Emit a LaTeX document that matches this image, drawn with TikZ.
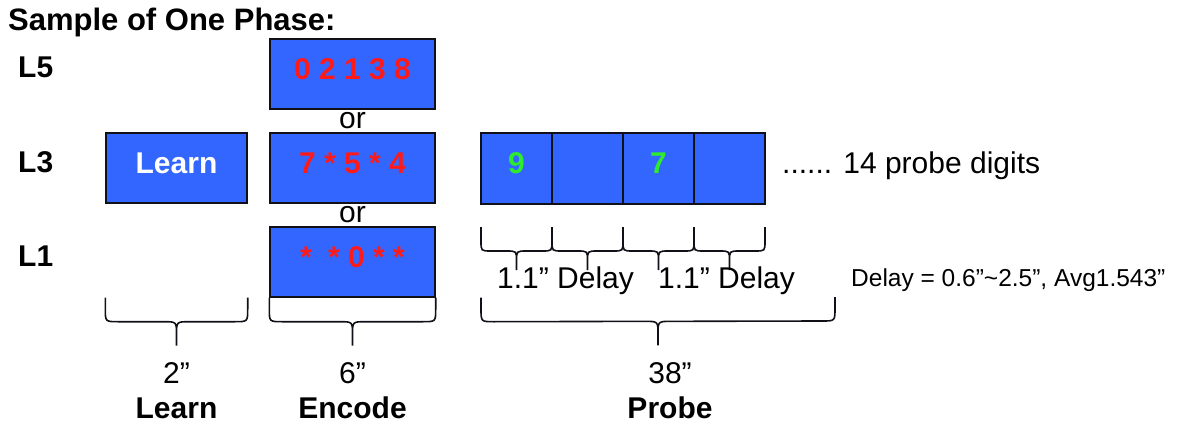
\documentclass[tikz,border=0pt]{standalone}
\usepackage{fontspec}
\setmainfont{Liberation Sans}
\usepackage{tikz}
\usetikzlibrary{positioning,calc}
\definecolor{ink}     {HTML}{101018}
\definecolor{boxblue} {HTML}{3366FF}
\definecolor{digred}  {HTML}{FF1A1A}
\definecolor{diggreen}{HTML}{2EEB2E}
\tikzset{
  every node/.style={font=\fontsize{30}{34}\selectfont},
  % --- nodes
  blk/.style   = {draw=ink, line width=1.4pt, fill=boxblue, inner sep=0pt,
                  minimum height=70pt, text depth=10pt,
                  font=\fontsize{30}{34}\selectfont\bfseries},
  lrn/.style   = {blk, minimum width=141pt, text=white},
  enc/.style   = {blk, minimum width=165pt, text=digred},
  cell/.style  = {blk, minimum width=71pt, minimum height=71pt, outer sep=0pt,
                  text=diggreen},
  hd/.style    = {font=\fontsize{30}{34}\selectfont\bfseries, inner sep=0pt},
  txt/.style   = {font=\fontsize{30}{34}\selectfont, inner sep=0pt},
  small/.style = {font=\fontsize{24.5}{28}\selectfont, inner sep=0pt},
  % --- braces: drop to bar, curve size, stem
  brc/.style   = {draw=ink, line width=1.6pt},
  curly/.style n args={3}{to path={
      -- ($(\tikztostart)+(0,#1-#2)$)
      .. controls ($(\tikztostart)+(0,#1)$) .. ($(\tikztostart)+(#2,#1)$)
      -- ($(\tikztostart)!.5!(\tikztotarget)+(-#2,#1)$)
      .. controls ($(\tikztostart)!.5!(\tikztotarget)+(0,#1)$)
      .. ($(\tikztostart)!.5!(\tikztotarget)+(0,#1+#2)$)
      -- ($(\tikztostart)!.5!(\tikztotarget)+(0,#1+#2+#3)$)
      -- ($(\tikztostart)!.5!(\tikztotarget)+(0,#1+#2)$)
      .. controls ($(\tikztostart)!.5!(\tikztotarget)+(0,#1)$)
      .. ($(\tikztostart)!.5!(\tikztotarget)+(#2,#1)$)
      -- ($(\tikztotarget)+(-#2,#1)$)
      .. controls ($(\tikztotarget)+(0,#1)$) .. ($(\tikztotarget)+(0,#1-#2)$)
      -- (\tikztotarget)}},
}

\begin{document}
\begin{tikzpicture}[x=1pt,y=-1pt]
  \useasboundingbox (0,0) rectangle (1199,425);

  % heading and levels
  \node[hd, anchor=base west, font=\fontsize{31}{35}\selectfont\bfseries] (title)
        at (8,31) {Sample of One Phase:};
  \node[hd, anchor=base west] (l5) at (18,78)  {L5};
  \node[hd, anchor=base west] (l3) at (18,172) {L3};
  \node[hd, anchor=base west] (l1) at (18,266) {L1};

  % learn and encode
  \node[lrn] (learn) at (176.5,168) {Learn};
  \node[enc] (enc5) at (352.5,74)  {0 2 1 3 8};
  \node[enc] (enc3) at (352.5,168) {7 * 5 * 4};
  \node[enc] (enc1) at (352.5,262) {*\hspace{8pt} * 0 * *};
  \node[txt] (or1) at ($(enc5.south)!.5!(enc3.north)$) {or};
  \node[txt] (or2) at ($(enc3.south)!.5!(enc1.north)$) {or};

  % probe digits
  \node[cell] (p1) at (516.5,168.5) {9};
  \node[cell, right=0pt of p1] (p2) {};
  \node[cell, right=0pt of p2] (p3) {7};
  \node[cell, right=0pt of p3] (p4) {};
  \node[txt, anchor=base west] (more) at (782,173) {...... 14 probe digits};

  % braces
  \coordinate (lb0) at (learn.west |- enc1.south);
  \coordinate (lb1) at (learn.east |- enc1.south);
  \coordinate (pb0) at (p1.west |- enc1.south);
  \coordinate (pb1) at (835,297);
  \draw[brc] (lb0) to[curly={24}{13}{11}] (lb1);
  \draw[brc] (enc1.south west) to[curly={24}{13}{11}] (enc1.south east);
  \draw[brc] (pb0) to[curly={24}{13}{11}] (pb1);
  \foreach \i in {1,...,4}{
    \coordinate (sa\i) at ($(p\i.south west)+(0,23)$);
    \coordinate (sb\i) at ($(p\i.south east)+(0,23)$);
    \draw[brc] (sa\i) to[curly={24}{10}{9}] (sb\i);
  }

  % durations
  \node[txt, anchor=base] (t2) at ($(lb0)!.5!(lb1)+(0,86)$) {2”};
  \node[hd, anchor=base]  (tl) at ($(lb0)!.5!(lb1)+(0,121)$) {Learn};
  \node[txt, anchor=base] (t6) at ($(enc1.south west)!.5!(enc1.south east)+(0,86)$) {6”};
  \node[hd, anchor=base]  (te) at ($(enc1.south west)!.5!(enc1.south east)+(0,121)$) {Encode};
  \node[txt, anchor=base] (t38) at (670,383) {38”};
  \node[hd, anchor=base]  (tp)  at (670,418) {Probe};

  % delays
  \node[txt, anchor=base west] (dl1) at (497,288) {1.1” Delay};
  \node[txt, anchor=base west] (dl2) at (658,288) {1.1” Delay};
  \node[small, anchor=base west] (note) at (851,286)
        {Delay = 0.6”\textasciitilde2.5”, Avg1.543”};
\end{tikzpicture}
\end{document}
